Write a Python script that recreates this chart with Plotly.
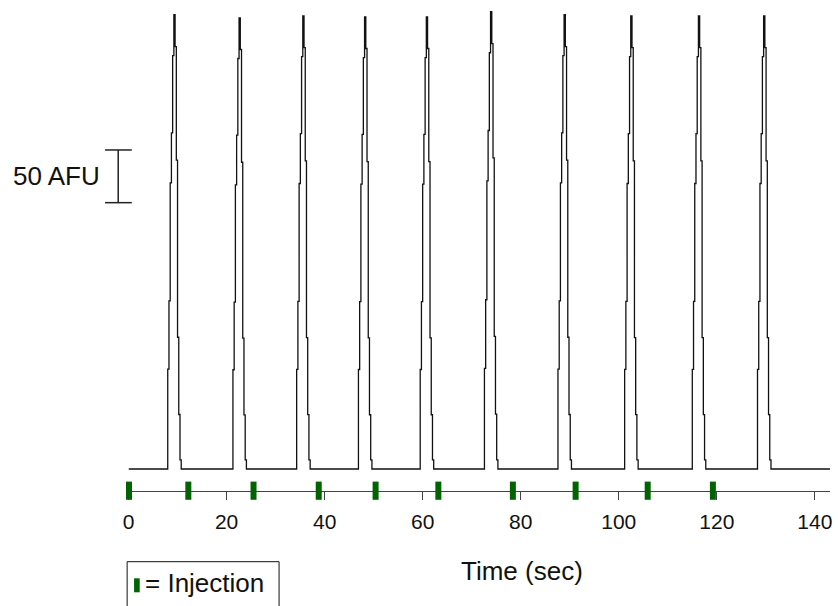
import plotly.graph_objects as go

# ---------------- data ----------------
injection_times = [0.1, 12.2, 25.5, 38.8, 50.4, 63.2, 78.4, 91.2, 105.9, 119.2]   # sec
peak_onsets = [8.0, 21.3, 34.3, 46.9, 59.5, 72.6, 87.6, 101.2, 115.0, 128.3]      # sec
peak_heights = [431, 428, 430, 429, 429, 434, 431, 430, 430, 430]                  # AFU
peak_profile = [0.22, 0.37, 0.63, 0.74, 0.91, 1.0, 0.93, 0.68, 0.29, 0.12, 0.02]   # step levels (fraction of peak)
sample_dt = 0.25          # sec per recorded sample
trace_start = 0.0
trace_end = 143.1
x_ticks = [0, 20, 40, 60, 80, 100, 120, 140]
scale_bar_afu = [252.7, 302.7]   # 50 AFU scale bar
x_title = "Time (sec)"
scale_label = "50 AFU"
legend_label = "= Injection"

# ---------------- build the recorded trace ----------------
t_vals = [trace_start]
y_vals = [0.0]
for onset, h in zip(peak_onsets, peak_heights):
    for k, f in enumerate(peak_profile):
        t_vals.append(onset + k * sample_dt)
        y_vals.append(h * f)
    t_vals.append(onset + len(peak_profile) * sample_dt)
    y_vals.append(0.0)
t_vals.append(trace_end)
y_vals.append(0.0)

W, H = 838, 606
Y_MIN, Y_MAX = -20.6, 445.0
GREEN = "#006400"
FONT = "Liberation Sans, Arial, sans-serif"


def px(x):
    return x / W


def py(y):
    return 1 - y / H


fig = go.Figure()
fig.add_trace(go.Scatter(
    x=t_vals, y=y_vals, mode="lines", line=dict(color="#111111", width=1.3, shape="hv"),
    hoverinfo="skip", showlegend=False))
fig.add_trace(go.Scatter(
    x=injection_times, y=[Y_MIN] * len(injection_times), mode="markers",
    marker=dict(symbol="line-ns", size=13, color=GREEN, line=dict(color=GREEN, width=6)),
    cliponaxis=False, showlegend=False, name="Injection"))

shapes = [
    # scale bar
    dict(type="line", xref="paper", yref="y", x0=px(113.3), x1=px(113.3),
         y0=scale_bar_afu[0], y1=scale_bar_afu[1], line=dict(color="#222222", width=1.5)),
    dict(type="line", xref="paper", yref="y", x0=px(100), x1=px(127),
         y0=scale_bar_afu[0], y1=scale_bar_afu[0], line=dict(color="#222222", width=1.5)),
    dict(type="line", xref="paper", yref="y", x0=px(100), x1=px(127),
         y0=scale_bar_afu[1], y1=scale_bar_afu[1], line=dict(color="#222222", width=1.5)),
    # legend box
    dict(type="rect", xref="paper", yref="paper", x0=px(122.3), x1=px(275.7),
         y0=py(561.7), y1=py(640), line=dict(color="#111111", width=1), fillcolor="rgba(0,0,0,0)"),
    dict(type="rect", xref="paper", yref="paper", x0=px(129.3), x1=px(135),
         y0=py(578.3), y1=py(592.3), line=dict(width=0), fillcolor=GREEN),
]

annotations = [
    dict(text=scale_label, xref="paper", yref="y", x=px(97), y=sum(scale_bar_afu) / 2,
         xanchor="right", yanchor="middle", showarrow=False, font=dict(size=26, color="#111", family=FONT)),
    dict(text=x_title, xref="paper", yref="paper", x=px(520.5), y=py(571),
         xanchor="center", yanchor="middle", showarrow=False, font=dict(size=26, color="#111", family=FONT)),
    dict(text=legend_label, xref="paper", yref="paper", x=px(138), y=py(583),
         xanchor="left", yanchor="middle", showarrow=False, font=dict(size=26, color="#111", family=FONT)),
]

fig.update_layout(
    width=W, height=H, margin=dict(l=0, r=0, t=0, b=0),
    paper_bgcolor="white", plot_bgcolor="white", showlegend=False,
    shapes=shapes, annotations=annotations,
    xaxis=dict(domain=[px(123.7), px(832)], range=[trace_start, trace_end],
               showline=True, linecolor="#444444", linewidth=1.2,
               ticks="outside", ticklen=8, tickcolor="#444444", tickwidth=1,
               tickvals=x_ticks, ticktext=[str(v) for v in x_ticks],
               tickfont=dict(size=21, color="#111", family=FONT),
               showgrid=False, zeroline=False, ticklabeloverflow="allow",
               ticklabelstandoff=4, layer="below traces"),
    yaxis=dict(domain=[py(490.7), 1], range=[Y_MIN, Y_MAX], visible=False),
)

fig.write_html("out.html", config={"displayModeBar": False},
               post_script="document.body.style.margin='0';document.body.style.overflow='hidden';")
